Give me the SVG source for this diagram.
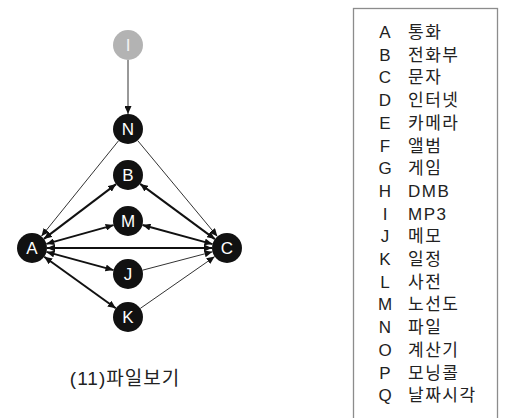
<svg xmlns="http://www.w3.org/2000/svg" width="505" height="418" viewBox="0 0 505 418">
  <style>
    .node circle { fill: #111; }
    .node text { fill: #fff; font-family: "Liberation Sans", Arial, sans-serif; font-size: 17px; text-anchor: middle; }
    .thin { stroke: #333; stroke-width: 1; fill: none; }
    .thick { stroke: #111; stroke-width: 2; fill: none; }
    .key { font-family: "Liberation Sans", Arial, sans-serif; font-size: 17px; fill: #222; text-anchor: middle; }
    .val { font-family: "Liberation Sans", "Noto Sans CJK KR", sans-serif; font-size: 17px; fill: #222; letter-spacing: 1.5px; }
    .caption { font-family: "Liberation Sans", "Noto Sans CJK KR", sans-serif; font-size: 19px; fill: #222; text-anchor: middle; letter-spacing: 1px; }
  </style>
  <defs>
    <marker id="arrow" markerUnits="userSpaceOnUse" markerWidth="8" markerHeight="7" refX="8" refY="3.5" orient="auto-start-reverse">
      <path d="M0,0 L8,3.5 L0,7 Z" fill="#111"/>
    </marker>
  </defs>
  <rect width="505" height="418" fill="#fff"/>

  <!-- connectors -->
  <g id="edges">
    <line class="thin" x1="128" y1="60" x2="128" y2="114" marker-end="url(#arrow)"/>
    <line class="thin" x1="118.6" y1="140.7" x2="41.4" y2="236.3" marker-end="url(#arrow)"/>
    <line class="thin" x1="137.6" y1="140.5" x2="217.4" y2="236.5" marker-end="url(#arrow)"/>
    <line class="thick" x1="43.9" y1="238.9" x2="116.1" y2="184.1" marker-start="url(#arrow)" marker-end="url(#arrow)"/>
    <line class="thick" x1="140.1" y1="183.9" x2="214.9" y2="239.1" marker-start="url(#arrow)" marker-end="url(#arrow)"/>
    <line class="thick" x1="46.4" y1="243.9" x2="113.6" y2="225.1" marker-start="url(#arrow)" marker-end="url(#arrow)"/>
    <line class="thick" x1="142.5" y1="225" x2="212.5" y2="244.1" marker-start="url(#arrow)" marker-end="url(#arrow)"/>
    <line class="thick" x1="47" y1="248" x2="212" y2="248" marker-start="url(#arrow)" marker-end="url(#arrow)"/>
    <line class="thick" x1="46.5" y1="251.9" x2="113.5" y2="270.1" marker-start="url(#arrow)" marker-end="url(#arrow)"/>
    <line class="thin" x1="142.5" y1="270.2" x2="212.5" y2="251.8" marker-end="url(#arrow)"/>
    <line class="thick" x1="44.2" y1="256.8" x2="115.8" y2="308.2" marker-start="url(#arrow)" marker-end="url(#arrow)"/>
    <line class="thin" x1="140.3" y1="308.4" x2="214.7" y2="256.6" marker-end="url(#arrow)"/>
  </g>

  <!-- nodes -->
  <g id="node-I" class="node"><circle cx="128" cy="45" r="15" style="fill:#b3b3b3"/><text x="128" y="51" style="fill:#f2f2f2">I</text></g>
  <g id="node-N" class="node"><circle cx="128" cy="129" r="15"/><text x="128" y="135">N</text></g>
  <g id="node-B" class="node"><circle cx="128" cy="175" r="15"/><text x="128" y="181">B</text></g>
  <g id="node-M" class="node"><circle cx="128" cy="221" r="15"/><text x="128" y="227">M</text></g>
  <g id="node-A" class="node"><circle cx="32" cy="248" r="15"/><text x="32" y="254">A</text></g>
  <g id="node-C" class="node"><circle cx="227" cy="248" r="15"/><text x="227" y="254">C</text></g>
  <g id="node-J" class="node"><circle cx="128" cy="274" r="15"/><text x="128" y="280">J</text></g>
  <g id="node-K" class="node"><circle cx="128" cy="317" r="15"/><text x="128" y="323">K</text></g>

  <text class="caption" x="125" y="385">(11)파일보기</text>

  <!-- legend -->
  <g id="legend">
    <rect x="353.5" y="8.5" width="144" height="420" fill="#fff" stroke="#8c8c8c" stroke-width="1.3"/>
    <g class="key">
      <text x="385" y="38">A</text>
      <text x="385" y="60.7">B</text>
      <text x="385" y="83.4">C</text>
      <text x="385" y="106.1">D</text>
      <text x="385" y="128.8">E</text>
      <text x="385" y="151.5">F</text>
      <text x="385" y="174.2">G</text>
      <text x="385" y="196.9">H</text>
      <text x="385" y="219.6">I</text>
      <text x="385" y="242.3">J</text>
      <text x="385" y="265">K</text>
      <text x="385" y="287.7">L</text>
      <text x="385" y="310.4">M</text>
      <text x="385" y="333.1">N</text>
      <text x="385" y="355.8">O</text>
      <text x="385" y="378.5">P</text>
      <text x="385" y="401.2">Q</text>
    </g>
    <g class="val">
      <text x="408" y="38">통화</text>
      <text x="408" y="60.7">전화부</text>
      <text x="408" y="83.4">문자</text>
      <text x="408" y="106.1">인터넷</text>
      <text x="408" y="128.8">카메라</text>
      <text x="408" y="151.5">앨범</text>
      <text x="408" y="174.2">게임</text>
      <text x="408" y="196.9">DMB</text>
      <text x="408" y="219.6">MP3</text>
      <text x="408" y="242.3">메모</text>
      <text x="408" y="265">일정</text>
      <text x="408" y="287.7">사전</text>
      <text x="408" y="310.4">노선도</text>
      <text x="408" y="333.1">파일</text>
      <text x="408" y="355.8">계산기</text>
      <text x="408" y="378.5">모닝콜</text>
      <text x="408" y="401.2">날짜시각</text>
    </g>
  </g>
</svg>
